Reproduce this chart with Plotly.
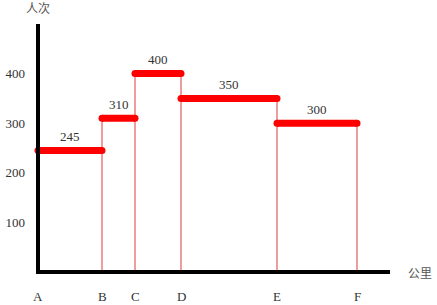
import plotly.graph_objects as go

# Stations along the route (position in km) and passenger counts per segment
stations = ["A", "B", "C", "D", "E", "F"]
positions = [0, 64, 97, 143, 239, 319]
passengers = [245, 310, 400, 350, 300]
y_ticks = [100, 200, 300, 400]

serif = "'Liberation Serif', 'DejaVu Serif', serif"
cjk = "'Noto Sans CJK SC', sans-serif"
txt_color = "#333333"

fig = go.Figure()

# thin vertical lines at stations B..F
for i in range(1, len(stations)):
    left = passengers[i - 1]
    right = passengers[i] if i < len(passengers) else 0
    top = max(left, right)
    fig.add_trace(go.Scatter(x=[positions[i], positions[i]], y=[0, top], mode="lines",
                             line=dict(color="rgb(228,90,90)", width=1.2),
                             hoverinfo="skip", showlegend=False))

# thick horizontal segments with rounded ends
for i, v in enumerate(passengers):
    fig.add_trace(go.Scatter(x=[positions[i], positions[i + 1]], y=[v, v], mode="lines+markers",
                             line=dict(color="#ff0000", width=7),
                             marker=dict(color="#ff0000", size=7, line=dict(width=0)),
                             hoverinfo="skip", showlegend=False, cliponaxis=False))
    fig.add_annotation(x=(positions[i] + positions[i + 1]) / 2, y=v, text=str(v),
                       showarrow=False, yshift=14, xanchor="center",
                       font=dict(family=serif, size=13, color=txt_color))

# station labels
for s, p in zip(stations, positions):
    fig.add_annotation(x=p, y=-0.097, xref="x", yref="paper", text=s, showarrow=False,
                       xanchor="center", yanchor="middle",
                       font=dict(family=serif, size=13, color=txt_color))

# axis titles
fig.add_annotation(x=0.011, y=1.065, xref="paper", yref="paper", text="人次", showarrow=False,
                   xanchor="center", yanchor="middle", font=dict(family=cjk, size=12, color="#555555"))
fig.add_annotation(x=1.084, y=0.0, xref="paper", yref="paper", text="公里", showarrow=False,
                   xanchor="center", yanchor="middle", font=dict(family=cjk, size=12, color="#555555"))

# black axes
fig.add_shape(type="line", xref="x", yref="paper", x0=0, x1=0, y0=0, y1=1,
              line=dict(color="black", width=4))
fig.add_shape(type="line", xref="x", yref="paper", x0=-2, x1=352, y0=0, y1=0,
              line=dict(color="black", width=4))

fig.update_layout(
    width=437, height=305,
    margin=dict(l=34, r=47, t=24, b=33),
    plot_bgcolor="white", paper_bgcolor="white",
    xaxis=dict(range=[-4, 352], showgrid=False, zeroline=False, showticklabels=False,
               showline=False, fixedrange=True, automargin=False),
    yaxis=dict(range=[0, 500], showgrid=False, zeroline=False, tickvals=y_ticks,
               ticks="", ticklabelstandoff=8, showline=False, automargin=False,
               tickfont=dict(family=serif, size=13, color=txt_color)),
)

fig.write_html("out.html")
